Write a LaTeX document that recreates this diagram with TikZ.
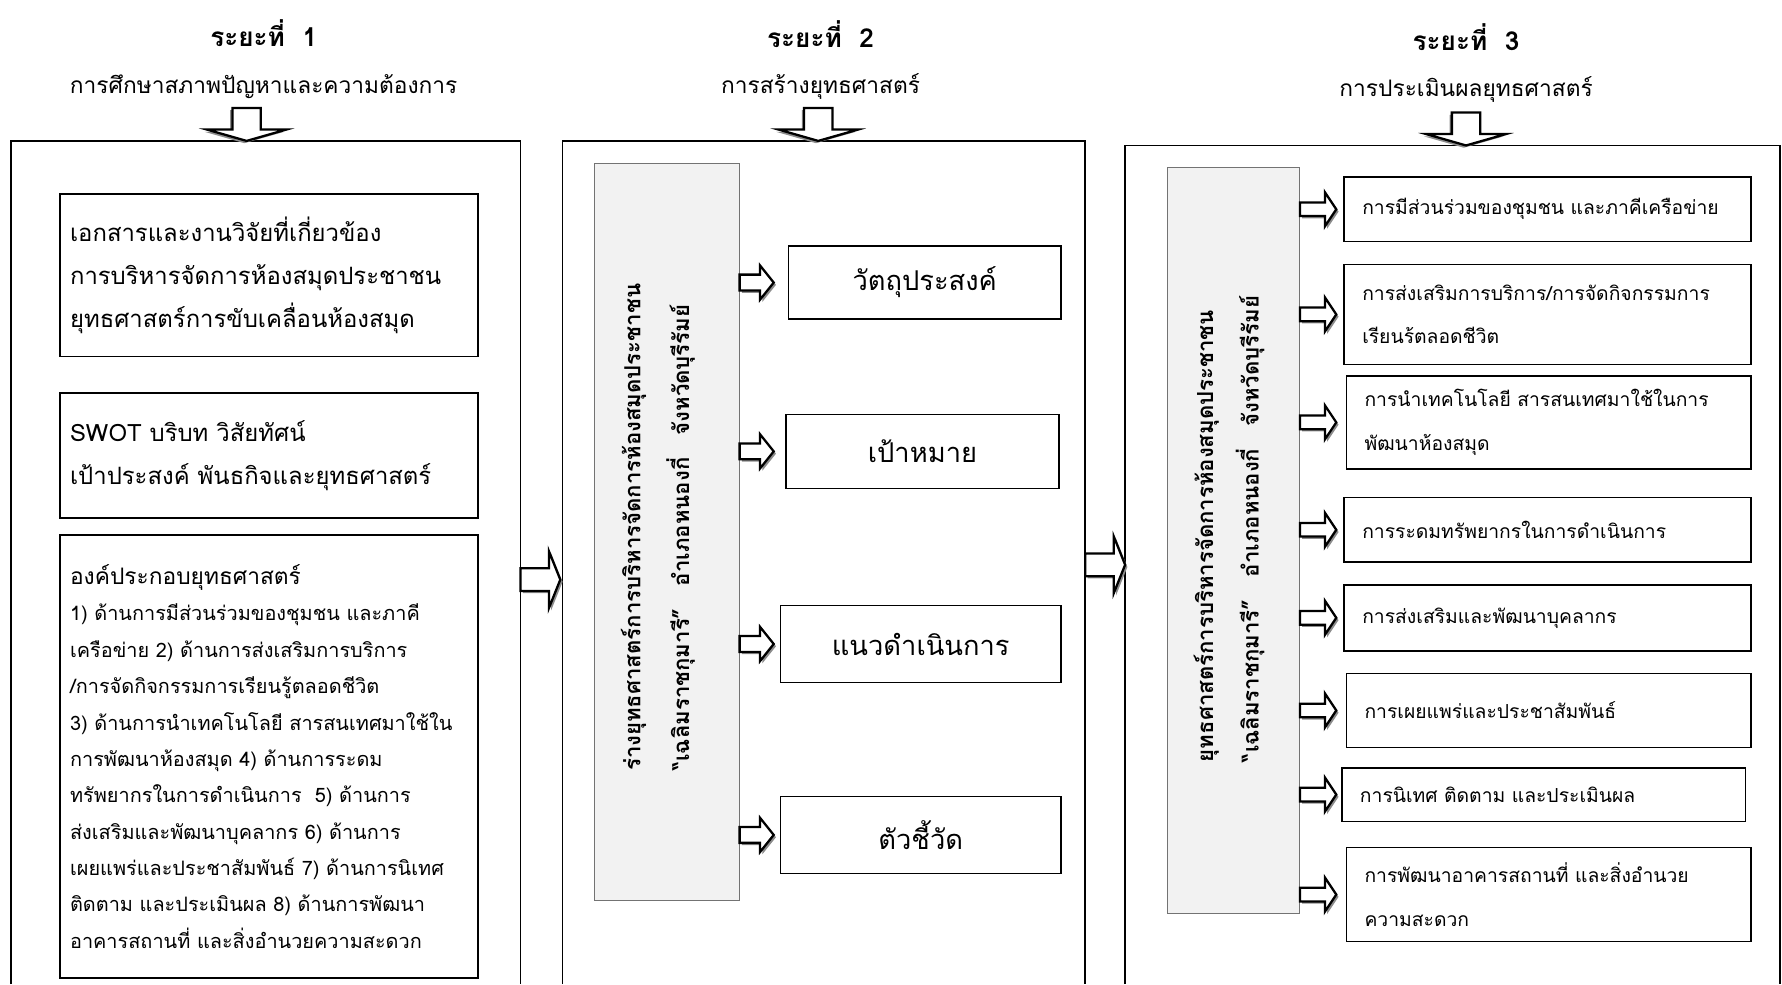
\documentclass[tikz,border=0pt]{standalone}
\usepackage{fontspec}
\setmainfont[Script=Thai]{Loma}
\usetikzlibrary{positioning}

\tikzset{
    panel/.style = {line width = 1.6pt},
    head/.style = {font = \bfseries\fontsize{23}{26}\selectfont},
    sub/.style = {font = \fontsize{20}{24}\selectfont},
    box/.style = {draw, line width = 1.3pt, anchor = north west, align = left, inner xsep = 9pt, inner ysep = 0pt},
    ebox/.style = {box, inner xsep = 16pt, font = \fontsize{17}{38}\selectfont},
    tbox/.style = {draw, line width = 1.3pt, anchor = north west, align = center, font = \fontsize{24}{28}\selectfont},
    greybox/.style = {draw = black!55, line width = 0.8pt, fill = black!5, anchor = north west},
    vtext/.style = {rotate = 90, align = left, font = \bfseries\fontsize{19.5}{43}\selectfont},
    pics/blockarrow/.style n args = {4}{code = {
        \fill[black!45, shift = {(2,2)}] (0,-#3) -- (#2,-#3) -- (#2,-#4) -- (#1,0) -- (#2,#4) -- (#2,#3) -- (0,#3) -- cycle;
        \draw[line width = 2pt, fill = white] (0,-#3) -- (#2,-#3) -- (#2,-#4) -- (#1,0) -- (#2,#4) -- (#2,#3) -- (0,#3) -- cycle;
    }}
}

\begin{document}
\begin{tikzpicture}[x = 1pt, y = -1pt]
    \useasboundingbox (0,0) rectangle (1568,866);

    \draw[panel] (10,866) |- (458,124) -- (458,866);
    \draw[panel] (495,866) |- (955,124) -- (955,866);
    \draw[panel] (990,866) |- (1566,128) -- (1566,866);

    \node[head] (h1) at (232,29) {ระยะที่\ \ 1};
    \node[head] (h2) at (722,30) {ระยะที่\ \ 2};
    \node[head] (h3) at (1290,33) {ระยะที่\ \ 3};
    \node[sub] (s1) at (232,76) {การศึกษาสภาพปัญหาและความต้องการ};
    \node[sub] (s2) at (722,76) {การสร้างยุทธศาสตร์};
    \node[sub] (s3) at (1290,79) {การประเมินผลยุทธศาสตร์};

    \pic[rotate = -90] at (217,95) {blockarrow={29}{19}{12.5}{35}};
    \pic[rotate = -90] at (720,95) {blockarrow={29}{19}{12.5}{35}};
    \pic[rotate = -90] at (1290,99) {blockarrow={29}{19}{12.5}{35}};

    \pic at (458,510) {blockarrow={35}{25}{10}{25}};
    \pic at (955,497) {blockarrow={35}{25}{10}{25}};

    % ระยะที่ 1
    \node[box, text width = 350pt, minimum height = 143pt, font = \fontsize{21}{38}\selectfont] (a1) at (52,170)
        {เอกสารและงานวิจัยที่เกี่ยวข้อง\\การบริหารจัดการห้องสมุดประชาชน\\ยุทธศาสตร์การขับเคลื่อนห้องสมุด};
    \node[box, text width = 350pt, minimum height = 110pt, font = \fontsize{21}{38}\selectfont] (a2) at (52,345)
        {SWOT บริบท วิสัยทัศน์\\เป้าประสงค์ พันธกิจและยุทธศาสตร์};
    \node[box, text width = 350pt, minimum height = 390pt, font = \fontsize{17.5}{32}\selectfont] (a3) at (52,470)
        {{\fontsize{20}{40}\selectfont องค์ประกอบยุทธศาสตร์}\\
         1) ด้านการมีส่วนร่วมของชุมชน และภาคี\\
         เครือข่าย 2) ด้านการส่งเสริมการบริการ\\
         /การจัดกิจกรรมการเรียนรู้ตลอดชีวิต\\
         3) ด้านการนำเทคโนโลยี สารสนเทศมาใช้ใน\\
         การพัฒนาห้องสมุด 4) ด้านการระดม\\
         ทรัพยากรในการดำเนินการ\ \ 5) ด้านการ\\
         ส่งเสริมและพัฒนาบุคลากร 6) ด้านการ\\
         เผยแพร่และประชาสัมพันธ์ 7) ด้านการนิเทศ\\
         ติดตาม และประเมินผล 8) ด้านการพัฒนา\\
         อาคารสถานที่ และสิ่งอำนวยความสะดวก};

    % ระยะที่ 2
    \node[greybox, minimum width = 127pt, minimum height = 649pt] (g2) at (523,143) {};
    \node[vtext, xshift = 4pt, yshift = 8pt] (v2) at (g2.center)
        {ร่างยุทธศาสตร์การบริหารจัดการห้องสมุดประชาชน\\“เฉลิมราชกุมารี”\quad อำเภอหนองกี่\quad จังหวัดบุรีรัมย์};
    \node[tbox, minimum width = 240pt, minimum height = 64pt] (o1) at (693,216) {วัตถุประสงค์};
    \node[tbox, minimum width = 240pt, minimum height = 65pt] (o2) at (691,364) {เป้าหมาย};
    \node[tbox, minimum width = 247pt, minimum height = 68pt] (o3) at (686,532) {แนวดำเนินการ};
    \node[tbox, minimum width = 247pt, minimum height = 68pt] (o4) at (686,700) {ตัวชี้วัด};
    \foreach \b in {o1,o2,o3,o4}
        \pic at (g2.east |- \b.west) {blockarrow={30}{18}{7}{15}};

    % ระยะที่ 3
    \node[greybox, minimum width = 116pt, minimum height = 656pt] (g3) at (1027,147) {};
    \node[vtext, xshift = 10pt, yshift = 4pt, font = \bfseries\fontsize{19.5}{40}\selectfont] (v3) at (g3.center)
        {ยุทธศาสตร์การบริหารจัดการห้องสมุดประชาชน\\“เฉลิมราชกุมารี”\quad อำเภอหนองกี่\quad จังหวัดบุรีรัมย์};
    \node[ebox, text width = 326pt, minimum height = 57pt] (e1) at (1182,155) {การมีส่วนร่วมของชุมชน และภาคีเครือข่าย};
    \node[ebox, text width = 326pt, minimum height = 88pt] (e2) at (1182,232) {การส่งเสริมการบริการ/การจัดกิจกรรมการ\\เรียนร้ตลอดชีวิต};
    \node[ebox, text width = 324pt, minimum height = 82pt] (e3) at (1184,330) {การนำเทคโนโลยี สารสนเทศมาใช้ในการ\\พัฒนาห้องสมุด};
    \node[ebox, text width = 326pt, minimum height = 57pt] (e4) at (1182,437) {การระดมทรัพยากรในการดำเนินการ};
    \node[ebox, text width = 326pt, minimum height = 58pt] (e5) at (1182,514) {การส่งเสริมและพัฒนาบุคลากร};
    \node[ebox, text width = 324pt, minimum height = 65pt] (e6) at (1184,592) {การเผยแพร่และประชาสัมพันธ์};
    \node[ebox, text width = 323pt, minimum height = 47pt] (e7) at (1180,675) {การนิเทศ ติดตาม และประเมินผล};
    \node[ebox, text width = 324pt, minimum height = 83pt] (e8) at (1184,745) {การพัฒนาอาคารสถานที่ และสิ่งอำนวย\\ความสะดวก};
    \foreach \b in {e1,e2,e3,e4,e5,e6,e7,e8}
        \pic at (g3.east |- \b.west) {blockarrow={32}{22}{6}{15}};
\end{tikzpicture}
\end{document}
